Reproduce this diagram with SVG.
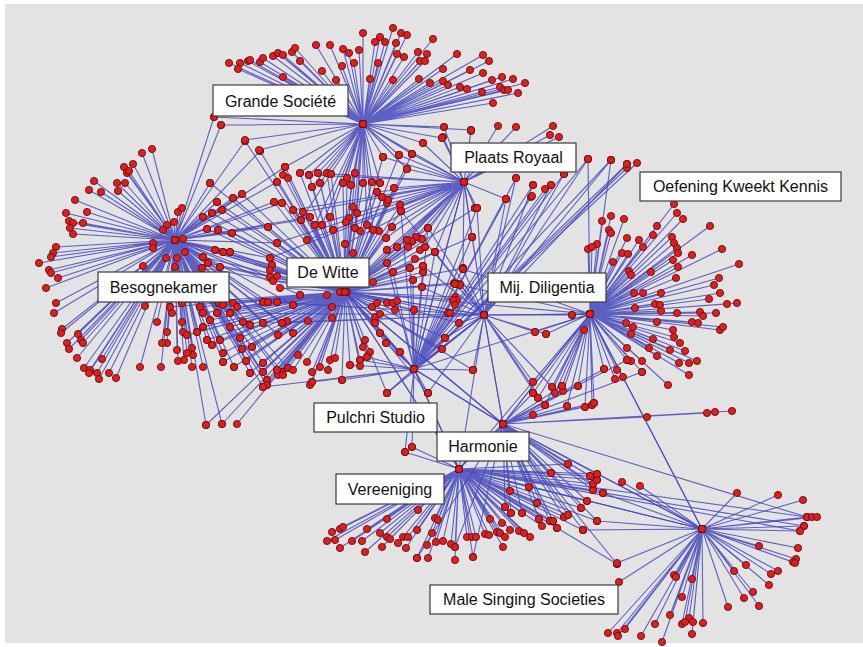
<svg xmlns="http://www.w3.org/2000/svg" xmlns:xlink="http://www.w3.org/1999/xlink" width="863" height="647" viewBox="0 0 863 647">
<style>
.e{fill:none;stroke:#4548bd;stroke-width:1.1;stroke-opacity:.85;stroke-linejoin:round}
.d{fill:none;stroke:none;marker-start:url(#dot);marker-mid:url(#dot);marker-end:url(#dot)}
.lb rect{fill:#fff;stroke:#3a3a3a;stroke-width:1.2}
.lb text{font-family:"Liberation Sans",Arial,sans-serif;font-size:16px;fill:#111;text-anchor:middle}
.hub{fill:#dc1f1f;stroke:#6b0f0f;stroke-width:.9}
</style>
<defs>
<marker id="dot" markerUnits="userSpaceOnUse" viewBox="0 0 10 10" refX="5" refY="5" markerWidth="10" markerHeight="10" overflow="visible"><circle cx="5" cy="5" r="3.6" fill="#dc1f1f" stroke="#6b0f0f" stroke-width=".9"/></marker>
<path id="pGS" d="M363 124L229 63M363 124L240 63M363 124L238 69M363 124L248 61M363 124L250 60M363 124L260 62M363 124L263 58M363 124L273 56M363 124L278 53M363 124L283 55M363 124L292 52M363 124L295 48M363 124L283 77M363 124L300 61M363 124L316 45M363 124L330 45M363 124L322 71M363 124L336 80M363 124L343 49M363 124L349 53M363 124L354 63M363 124L342 66M363 124L359 50M363 124L363 33M363 124L370 79M363 124L378 63M363 124L375 42M363 124L380 37M363 124L385 42M363 124L393 28M363 124L396 43M363 124L401 33M363 124L407 35M363 124L393 80M363 124L397 54M363 124L404 57M363 124L418 52M363 124L427 54M363 124L433 39M363 124L420 61M363 124L425 61M363 124L457 54M363 124L443 69M363 124L419 79M363 124L430 83M363 124L443 81M363 124L448 85M363 124L460 87M363 124L467 89M363 124L470 70M363 124L483 55M363 124L489 61M363 124L483 73M363 124L482 92M363 124L492 80M363 124L502 77M363 124L500 87M363 124L504 90M363 124L508 90M363 124L513 79M363 124L525 83M363 124L518 93M363 124L493 103M363 124L214 117M363 124L221 125M363 124L245 140M363 124L259 150M363 124L444 127M363 124L471 130M363 124L442 138M363 124L423 143M363 124L464 182M363 124L285 167M363 124L300 173M363 124L309 175M363 124L318 173M363 124L327 173M363 124L347 178M363 124L355 173M363 124L363 183M363 124L372 182M363 124L380 183M363 124L383 157M363 124L399 155M363 124L412 154M363 124L407 169M363 124L320 183M363 124L343 183M363 124L351 185M363 124L312 187M363 124L330 217M363 124L346 222M363 124L345 292M363 124L355 228M363 124L367 225M363 124L357 213M363 124L322 225M363 124L315 225M363 124L301 220M363 124L373 230"/>
<path id="pPR" d="M464 182L471 131M464 182L498 126M464 182L516 127M464 182L553 126M464 182L550 135M464 182L559 137M464 182L443 137M464 182L444 127M464 182L471 130M464 182L442 138M464 182L423 143M464 182L477 208M464 182L506 199M464 182L472 237M464 182L463 269M464 182L383 157M464 182L399 155M464 182L412 154M464 182L407 169M464 182L394 188M464 182L400 205M464 182L401 211M464 182L388 200M464 182L414 369M464 182L345 292M464 182L428 228M464 182L422 239M464 182L416 237M464 182L412 241M464 182L407 240M464 182L425 247M464 182L435 252M464 182L397 247M464 182L387 250M464 182L386 238M464 182L392 227M464 182L475 208M464 182L309 175M464 182L331 174M464 182L293 210M464 182L303 212M464 182L315 225M464 182L333 230M464 182L277 243M464 182L307 240M464 182L345 244M464 182L270 258M464 182L377 192M464 182L382 197"/>
<path id="pPS" d="M414 369L516 178M414 369L533 185M414 369L531 197M414 369L545 189M414 369L551 185M414 369L564 174M414 369L588 159M414 369L611 160M414 369L627 164M414 369L637 163M414 369L627 168M414 369L532 196M414 369L506 199M414 369L464 182M414 369L455 284M414 369L460 285M414 369L453 300M414 369L455 305M414 369L448 313M414 369L445 338M414 369L442 349M414 369L473 370M414 369L428 393M414 369L387 393M414 369L405 452M414 369L412 447M414 369L400 352M414 369L386 343M414 369L380 333M414 369L375 323M414 369L414 310M414 369L422 287M414 369L413 280M414 369L423 272M414 369L423 266M414 369L410 268M414 369L393 272M414 369L387 263M414 369L345 292M414 369L360 360M414 369L367 357M414 369L350 365M414 369L342 380M414 369L312 382M414 369L263 387M414 369L484 315M414 369L503 424M414 369L459 469M414 369L590 314M414 369L463 268M414 369L472 237M414 369L477 208M414 369L401 211M414 369L428 228M414 369L435 252"/>
<path id="pDW" d="M345 292L285 167M345 292L283 175M345 292L288 178M345 292L277 182M345 292L300 173M345 292L309 175M345 292L318 173M345 292L327 173M345 292L331 174M345 292L320 183M345 292L312 187M345 292L347 178M345 292L355 173M345 292L343 183M345 292L351 185M345 292L363 183M345 292L372 182M345 292L380 183M345 292L377 192M345 292L382 197M345 292L388 200M345 292L387 203M345 292L394 188M345 292L400 205M345 292L401 211M345 292L383 157M345 292L399 155M345 292L412 154M345 292L407 169M345 292L274 202M345 292L282 203M345 292L293 210M345 292L303 212M345 292L301 220M345 292L310 217M345 292L315 225M345 292L322 225M345 292L330 217M345 292L333 230M345 292L346 222M345 292L349 218M345 292L353 207M345 292L357 213M345 292L355 228M345 292L360 231M345 292L367 225M345 292L373 230M345 292L379 231M345 292L386 238M345 292L392 227M345 292L268 227M345 292L277 243M345 292L307 240M345 292L345 244M345 292L353 253M345 292L387 250M345 292L397 247M345 292L407 240M345 292L412 241M345 292L416 237M345 292L422 239M345 292L425 247M345 292L420 250M345 292L428 228M345 292L435 252M345 292L408 247M345 292L415 259M345 292L270 258M345 292L272 265M345 292L270 270M345 292L270 277M345 292L273 281M345 292L277 276M345 292L387 263M345 292L393 272M345 292L410 268M345 292L423 266M345 292L423 272M345 292L413 280M345 292L422 287M345 292L463 268M345 292L454 283M345 292L459 284M345 292L455 297M345 292L457 300M345 292L450 313M345 292L459 323M345 292L472 237M345 292L475 208M345 292L445 338M345 292L442 349M345 292L280 288M345 292L268 302M345 292L263 302M345 292L277 302M345 292L293 305M345 292L300 295M345 292L327 295M345 292L332 307M345 292L340 292M345 292L347 292M345 292L373 282M345 292L372 307M345 292L377 303M345 292L387 303M345 292L393 303M345 292L397 301M345 292L395 310M345 292L375 317M345 292L380 314M345 292L414 310M345 292L263 323M345 292L282 323M345 292L287 321M345 292L308 321M345 292L293 333M345 292L278 335M345 292L332 318M345 292L375 323M345 292L380 333M345 292L386 343M345 292L365 340M345 292L363 347M345 292L370 352M345 292L360 360M345 292L367 357M345 292L400 352M345 292L298 355M345 292L307 362M345 292L312 372M345 292L320 367M345 292L330 360M345 292L335 358M345 292L328 370M345 292L350 365M345 292L360 366M345 292L342 380M345 292L312 382M345 292L310 385M345 292L288 368M345 292L293 370M345 292L282 372M345 292L278 375M345 292L283 375M345 292L263 363M345 292L267 380M345 292L263 387M345 292L387 393M345 292L428 393M345 292L473 370M345 292L222 424M345 292L237 424M345 292L206 425M345 292L175 240M345 292L414 369M345 292L484 315M345 292L590 314M345 292L503 424M345 292L459 469M345 292L203 217M345 292L212 213M345 292L217 202M345 292L222 210M345 292L233 198M345 292L242 194M345 292L207 229M345 292L218 230M345 292L232 233M345 292L215 250M345 292L223 252M345 292L230 252M345 292L203 257M345 292L208 263M345 292L220 267M345 292L202 268M345 292L170 307M345 292L182 303M345 292L200 307M345 292L203 313M345 292L210 320M345 292L217 313M345 292L219 303M345 292L223 305M345 292L230 313M345 292L233 303M345 292L237 307M345 292L230 327M345 292L243 322M345 292L240 338M345 292L187 335M345 292L197 332M345 292L203 327M345 292L250 325M345 292L252 347M345 292L207 340M345 292L212 345M345 292L220 340M345 292L223 353M345 292L223 362M345 292L234 367M345 292L242 349M345 292L246 361M345 292L250 373M345 292L263 372M345 292L267 385M345 292L277 370M345 292L260 151M345 292L245 141M345 292L210 183"/>
<path id="pBK" d="M175 240L142 153M175 240L152 149M175 240L124 167M175 240L133 164M175 240L127 173M175 240L129 171M175 240L94 181M175 240L89 190M175 240L101 192M175 240L117 183M175 240L125 183M175 240L118 191M175 240L75 200M175 240L66 213M175 240L87 212M175 240L69 221M175 240L73 223M175 240L83 223M175 240L70 228M175 240L73 234M175 240L56 247M175 240L53 253M175 240L51 257M175 240L39 263M175 240L49 270M175 240L51 273M175 240L58 278M175 240L46 288M175 240L56 303M175 240L54 313M175 240L62 329M175 240L61 333M175 240L78 334M175 240L81 340M175 240L83 343M175 240L67 343M175 240L69 349M175 240L77 358M175 240L102 359M175 240L84 368M175 240L90 370M175 240L89 373M175 240L97 373M175 240L99 379M175 240L109 373M175 240L116 378M175 240L140 367M175 240L161 367M175 240L210 183M175 240L260 151M175 240L245 141M175 240L214 117M175 240L221 125M175 240L178 212M175 240L182 208M175 240L174 222M175 240L167 225M175 240L163 230M175 240L153 243M175 240L153 248M175 240L183 239M175 240L185 252M175 240L166 258M175 240L177 258M175 240L175 267M175 240L143 266M175 240L145 306M175 240L157 322M175 240L167 332M175 240L167 343M175 240L162 343M175 240L182 322M175 240L177 350M175 240L178 361M175 240L184 360M175 240L192 348M175 240L193 355M175 240L192 367M175 240L207 340M175 240L212 345M175 240L203 367M175 240L220 340M175 240L223 353M175 240L223 362M175 240L234 367M175 240L242 349M175 240L246 361M175 240L250 373M175 240L263 372M175 240L267 385M175 240L277 370M175 240L203 217M175 240L212 213M175 240L217 202M175 240L222 210M175 240L233 198M175 240L242 194M175 240L207 229M175 240L218 230M175 240L232 233M175 240L215 250M175 240L223 252M175 240L230 252M175 240L203 257M175 240L208 263M175 240L220 267M175 240L202 268M175 240L170 307M175 240L182 303M175 240L200 307M175 240L203 313M175 240L210 320M175 240L217 313M175 240L219 303M175 240L223 305M175 240L230 313M175 240L233 303M175 240L237 307M175 240L230 327M175 240L243 322M175 240L240 338M175 240L187 335M175 240L197 332M175 240L203 327M175 240L250 325M175 240L252 347M175 240L187 353M175 240L172 313M175 240L183 332M175 240L206 425M175 240L222 424M175 240L345 292M175 240L274 202M175 240L282 203M175 240L268 227M175 240L277 243M175 240L270 258M175 240L272 265M175 240L270 277M175 240L263 302M175 240L268 302M175 240L263 323M175 240L282 323M175 240L263 363M175 240L267 380M175 240L263 387M175 240L293 305M175 240L300 295M175 240L293 333M175 240L278 335M175 240L288 368M175 240L282 372M175 240L285 167M175 240L277 182M175 240L301 220M175 240L310 217"/>
<path id="pMD" d="M484 315L455 284M484 315L460 285M484 315L463 269M484 315L472 237M484 315L477 208M484 315L506 199M484 315L533 185M484 315L564 174M484 315L588 159M484 315L611 160M484 315L535 332M484 315L546 334M484 315L572 315M484 315L590 314M484 315L503 424M484 315L459 469M484 315L414 369M484 315L345 292M484 315L423 266M484 315L422 287M484 315L435 252M484 315L428 228M484 315L450 313M484 315L459 323M484 315L445 338M484 315L533 382M484 315L538 398M484 315L545 405M484 315L552 387M484 315L473 370M484 315L464 182M484 315L401 211M484 315L277 302M484 315L268 302M484 315L263 323M484 315L282 323M484 315L230 313M484 315L627 164M484 315L551 185M484 315L516 178M484 315L387 393M484 315L428 393"/>
<path id="pOK" d="M590 314L674 204M590 314L677 213M590 314L683 219M590 314L710 226M590 314L722 249M590 314L739 264M590 314L602 221M590 314L611 216M590 314L624 219M590 314L609 230M590 314L611 233M590 314L597 244M590 314L588 249M590 314L592 247M590 314L627 238M590 314L639 240M590 314L643 247M590 314L657 226M590 314L653 235M590 314L672 237M590 314L674 243M590 314L677 248M590 314L678 253M590 314L673 260M590 314L692 255M590 314L678 267M590 314L622 253M590 314L628 254M590 314L613 262M590 314L629 271M590 314L631 275M590 314L651 272M590 314L676 278M590 314L634 293M590 314L643 293M590 314L661 293M590 314L719 278M590 314L714 285M590 314L720 293M590 314L709 299M590 314L727 304M590 314L737 303M590 314L635 308M590 314L655 304M590 314L660 305M590 314L661 311M590 314L677 313M590 314L700 312M590 314L703 316M590 314L716 313M590 314L692 322M590 314L698 323M590 314L720 330M590 314L723 327M590 314L626 323M590 314L633 327M590 314L657 322M590 314L673 330M590 314L674 337M590 314L631 334M590 314L653 339M590 314L680 343M590 314L685 351M590 314L670 350M590 314L649 348M590 314L657 356M590 314L627 348M590 314L627 360M590 314L631 361M590 314L642 361M590 314L642 372M590 314L679 363M590 314L689 363M590 314L697 361M590 314L689 375M590 314L604 369M590 314L617 370M590 314L615 379M590 314L623 377M590 314L668 385M590 314L572 315M590 314L584 330M590 314L535 332M590 314L546 334M590 314L533 382M590 314L533 393M590 314L538 398M590 314L545 405M590 314L552 387M590 314L555 393M590 314L562 386M590 314L563 391M590 314L578 386M590 314L567 406M590 314L585 407M590 314L592 405M590 314L594 403M590 314L484 315M590 314L503 424M590 314L702 529M590 314L459 469M590 314L463 269M590 314L455 284M590 314L588 159M590 314L611 160"/>
<path id="pHA" d="M503 424L647 417M503 424L707 413M503 424L715 412M503 424L732 411M503 424L533 415M503 424L533 393M503 424L545 405M503 424L567 406M503 424L585 407M503 424L592 405M503 424L594 403M503 424L578 386M503 424L562 386M503 424L590 314M503 424L414 369M503 424L459 469M503 424L702 529M503 424L551 473M503 424L568 464M503 424L590 476M503 424L597 474M503 424L593 484M503 424L597 480M503 424L593 490M503 424L603 493M503 424L587 501M503 424L529 487M503 424L537 503M503 424L581 508M503 424L597 521M503 424L510 491M503 424L505 507M503 424L511 513M503 424L522 513M503 424L539 519M503 424L550 521M503 424L553 521M503 424L564 517M503 424L568 515M503 424L583 530M503 424L557 528M503 424L484 315M503 424L345 292M503 424L455 547M503 424L473 557M503 424L417 558M503 424L617 564M503 424L642 372M503 424L627 360M503 424L604 369M503 424L807 517"/>
<path id="pVE" d="M459 469L332 532M459 469L340 529M459 469L343 527M459 469L327 541M459 469L335 540M459 469L340 548M459 469L352 541M459 469L362 541M459 469L367 529M459 469L365 552M459 469L380 533M459 469L382 547M459 469L387 537M459 469L390 539M459 469L387 519M459 469L398 543M459 469L403 537M459 469L408 537M459 469L406 548M459 469L417 530M459 469L418 510M459 469L417 558M459 469L428 558M459 469L427 545M459 469L432 533M459 469L435 518M459 469L438 520M459 469L436 542M459 469L443 541M459 469L451 544M459 469L455 547M459 469L455 560M459 469L467 537M459 469L472 537M459 469L476 537M459 469L473 557M459 469L485 534M459 469L489 535M459 469L490 519M459 469L497 532M459 469L502 523M459 469L500 533M459 469L505 537M459 469L503 547M459 469L510 530M459 469L505 507M459 469L511 513M459 469L510 491M459 469L519 531M459 469L522 513M459 469L524 533M459 469L530 537M459 469L529 487M459 469L537 503M459 469L539 519M459 469L542 526M459 469L550 521M459 469L553 521M459 469L557 528M459 469L564 517M459 469L568 515M459 469L583 530M459 469L581 508M459 469L587 501M459 469L597 521M459 469L603 493M459 469L593 490M459 469L593 484M459 469L597 480M459 469L590 476M459 469L597 474M459 469L551 473M459 469L568 464M459 469L617 564M459 469L702 529M459 469L503 424M459 469L414 369M459 469L345 292M459 469L412 447M459 469L405 452M459 469L800 531M459 469L804 526M459 469L807 517"/>
<path id="pMS" d="M702 529L737 493M702 529L778 495M702 529L803 500M702 529L807 517M702 529L812 517M702 529L817 517M702 529L804 526M702 529L800 531M702 529L798 548M702 529L796 559M702 529L793 562M702 529L795 563M702 529L759 546M702 529L746 565M702 529L734 571M702 529L778 571M702 529L771 574M702 529L769 585M702 529L753 592M702 529L744 598M702 529L759 606M702 529L728 607M702 529L703 623M702 529L692 634M702 529L689 618M702 529L693 622M702 529L682 624M702 529L685 622M702 529L682 597M702 529L692 579M702 529L674 575M702 529L676 577M702 529L670 615M702 529L655 624M702 529L641 636M702 529L625 629M702 529L617 633M702 529L618 636M702 529L608 633M702 529L662 642M702 529L617 563M702 529L619 582M702 529L603 493M702 529L640 486M702 529L622 482M702 529L590 314M702 529L459 469M702 529L503 424M702 529L583 530M702 529L597 521"/>
</defs>
<rect width="863" height="647" fill="#ffffff"/>
<rect x="5" y="4" width="858" height="639" fill="#e3e3e3"/>
<g id="connectors">
<use href="#pBK" class="e"/><use href="#pDW" class="e"/><use href="#pGS" class="e"/><use href="#pPR" class="e"/><use href="#pPS" class="e"/><use href="#pMD" class="e"/><use href="#pOK" class="e"/><use href="#pHA" class="e"/><use href="#pVE" class="e"/><use href="#pMS" class="e"/>
</g>
<g id="nodes">
<use href="#pBK" class="d"/><use href="#pDW" class="d"/><use href="#pGS" class="d"/><use href="#pPR" class="d"/><use href="#pPS" class="d"/><use href="#pMD" class="d"/><use href="#pOK" class="d"/><use href="#pHA" class="d"/><use href="#pVE" class="d"/><use href="#pMS" class="d"/>
</g>
<g id="grande-societe" class="lb"><circle class="hub" cx="363" cy="124" r="3.6"/><rect x="213" y="85" width="135" height="31"/><text x="280.5" y="106.5">Grande Société</text></g>
<g id="plaats-royaal" class="lb"><circle class="hub" cx="464" cy="182" r="3.6"/><rect x="451" y="143" width="125" height="29"/><text x="513.5" y="163">Plaats Royaal</text></g>
<g id="oefening-kweekt-kennis" class="lb"><circle class="hub" cx="590" cy="314" r="3.6"/><rect x="640" y="172" width="201" height="29"/><text x="740.5" y="192">Oefening Kweekt Kennis</text></g>
<g id="besognekamer" class="lb"><circle class="hub" cx="175" cy="240" r="3.6"/><rect x="98" y="272" width="131" height="30"/><text x="163.5" y="292.5">Besognekamer</text></g>
<g id="de-witte" class="lb"><circle class="hub" cx="345" cy="292" r="3.6"/><rect x="287" y="258" width="82" height="29"/><text x="328" y="278">De Witte</text></g>
<g id="mij-diligentia" class="lb"><circle class="hub" cx="484" cy="315" r="3.6"/><rect x="488" y="273" width="118" height="29"/><text x="547" y="293">Mij. Diligentia</text></g>
<g id="pulchri-studio" class="lb"><circle class="hub" cx="414" cy="369" r="3.6"/><rect x="314" y="403" width="123" height="29"/><text x="375.5" y="423">Pulchri Studio</text></g>
<g id="harmonie" class="lb"><circle class="hub" cx="503" cy="424" r="3.6"/><rect x="437" y="432" width="92" height="29"/><text x="483" y="452">Harmonie</text></g>
<g id="vereeniging" class="lb"><circle class="hub" cx="459" cy="469" r="3.6"/><rect x="336" y="474" width="108" height="30"/><text x="390" y="494.5">Vereeniging</text></g>
<g id="male-singing-societies" class="lb"><circle class="hub" cx="702" cy="529" r="3.6"/><rect x="430" y="585" width="188" height="29"/><text x="524" y="605">Male Singing Societies</text></g>
</svg>
